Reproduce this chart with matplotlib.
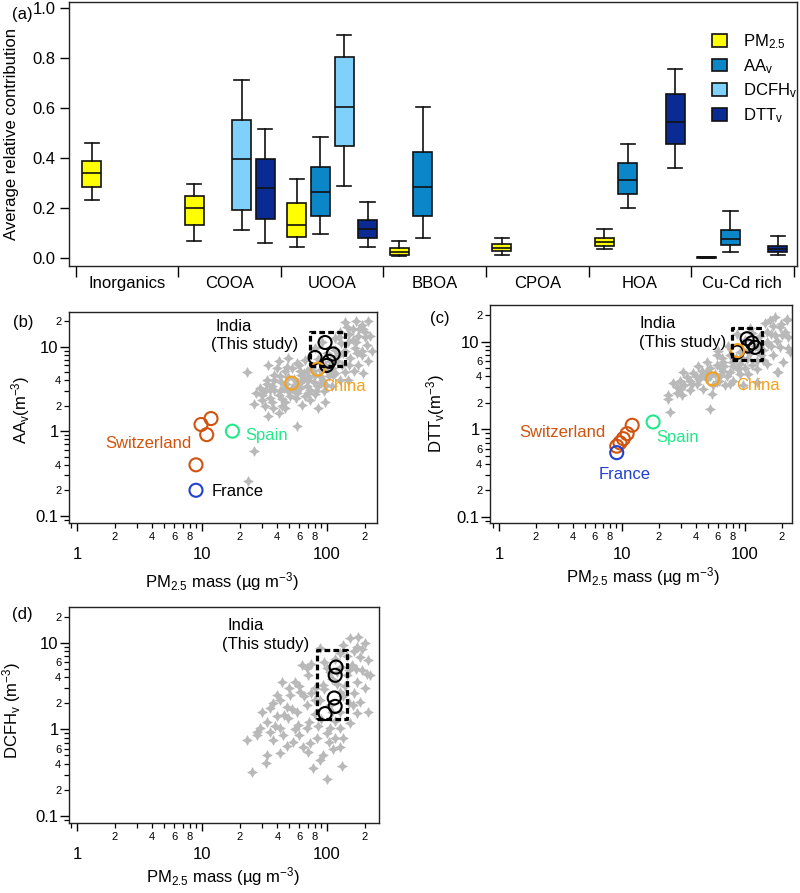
import numpy as np
import matplotlib
matplotlib.use("Agg")
import matplotlib.pyplot as plt
from matplotlib.ticker import FixedLocator, FuncFormatter, LogLocator
from matplotlib.patches import Patch

plt.rcParams['font.family'] = ['Liberation Sans', 'DejaVu Sans']
plt.rcParams['mathtext.fontset'] = 'custom'
plt.rcParams['mathtext.rm'] = 'Liberation Sans'
plt.rcParams['mathtext.it'] = 'Liberation Sans:italic'
plt.rcParams['font.size'] = 12

# ---- panel (a): box summaries (whislo, q1, med, q3, whishi) ----
categories = ["Inorganics", "COOA", "UOOA", "BBOA", "CPOA", "HOA", "Cu-Cd rich"]
pm25_box = [(0.231, 0.284, 0.340, 0.387, 0.460), (0.069, 0.133, 0.200, 0.247, 0.296),
            (0.044, 0.085, 0.133, 0.220, 0.317), (0.007, 0.013, 0.024, 0.039, 0.068),
            (0.011, 0.027, 0.041, 0.056, 0.081), (0.036, 0.047, 0.063, 0.081, 0.117),
            (0.001, 0.002, 0.003, 0.004, 0.004)]
aa_box = [None, None, (0.095, 0.169, 0.263, 0.364, 0.484), (0.079, 0.168, 0.283, 0.423, 0.605),
          None, (0.200, 0.256, 0.313, 0.379, 0.456), (0.024, 0.052, 0.077, 0.112, 0.189)]
dcfh_box = [None, (0.111, 0.193, 0.396, 0.551, 0.711), (0.289, 0.449, 0.603, 0.804, 0.892),
            None, None, None, None]
dtt_box = [None, (0.060, 0.156, 0.280, 0.395, 0.516), (0.044, 0.079, 0.115, 0.151, 0.223),
           None, None, (0.359, 0.455, 0.545, 0.657, 0.756), (0.011, 0.025, 0.036, 0.048, 0.088)]
series_names = [r"PM$_{2.5}$", r"AA$_\mathrm{v}$", r"DCFH$_\mathrm{v}$", r"DTT$_\mathrm{v}$"]
series_colors = ["#FFFF00", "#0B87C9", "#7FD1FB", "#0A2A94"]

# ---- panel (b): AAv vs PM2.5 ----
b_gray_x = [139, 169, 211, 195, 160, 127, 221, 178, 148, 207, 167, 228, 189, 153, 214, 178, 195, 163,
            116, 80, 123, 91, 116, 127, 103, 148, 109, 34, 41, 49, 57, 67, 75, 61, 46, 38, 33, 29,
            36, 43, 54, 65, 78, 92, 73, 61, 49, 41, 35, 30, 46, 56, 67, 80, 94, 37, 46, 85, 32, 63,
            22.7, 26.2, 57, 23.5, 27, 40, 52, 69, 88, 99, 38, 56, 45, 32, 73, 96, 41, 34,
            49, 59, 69, 85, 42, 35, 51, 80, 96, 106, 131, 116, 62, 55, 44, 70, 88, 100, 110, 120,
            140, 130, 150, 180, 200, 170, 190, 150, 140, 85, 60, 100,
            30, 33, 38, 42, 47, 52, 57, 62, 66, 72, 77, 82, 90, 105, 112, 118, 135, 160, 175, 200,
            145, 190, 125, 48, 36, 44, 70, 26]
b_gray_y = [19.5, 20.2, 19.9, 16.3, 16.3, 15.1, 13.2, 13.2, 11.5, 10.5, 9.6, 8.8, 8.0, 7.3, 6.7, 6.1, 4.9, 5.1,
            12.6, 9.6, 8.0, 11.5, 4.9, 4.06, 4.44, 4.06, 3.38, 6.1, 6.7, 7.3, 6.4, 7.0, 5.6, 5.1, 5.1, 4.6, 4.06, 3.23,
            3.38, 3.8, 4.17, 4.25, 3.8, 4.06, 3.09, 3.23, 2.95, 2.65, 2.5, 2.35, 2.24, 2.46, 2.58, 2.74, 2.95, 1.87, 1.89, 1.87, 2.0, 2.05,
            4.95, 0.575, 1.16, 0.256, 2.82, 5.6, 5.6, 5.1, 5.3, 3.54, 3.09, 3.54, 3.23, 2.95, 2.35, 2.24, 1.64, 1.53,
            4.4, 3.7, 3.38, 3.38, 4.44, 3.09, 2.58, 4.64, 6.1, 6.7, 6.1, 9.2, 4.6, 3.0, 2.4, 4.0, 4.5, 5.2, 5.6, 6.8,
            9.0, 11.0, 14.0, 16.0, 13.0, 11.5, 9.0, 6.0, 5.0, 7.2, 6.0, 8.5,
            2.7, 3.6, 4.0, 3.0, 3.6, 3.2, 2.8, 3.8, 4.9, 4.4, 5.2, 3.0, 3.7, 5.0, 4.6, 7.5, 8.5, 12.0, 8.5, 15.0,
            17.0, 18.0, 13.0, 5.8, 2.2, 2.0, 2.8, 2.1]
b_india_x = [96.4, 80.2, 112, 104, 99.4]
b_india_y = [11.2, 7.45, 8.2, 6.7, 6.0]
b_china_x = [52.1, 84.2]
b_china_y = [3.7, 5.42]
b_swiss_x = [9.82, 11.8, 10.9, 8.95]
b_swiss_y = [1.2, 1.41, 0.91, 0.40]
b_spain_x = [17.5]
b_spain_y = [1.0]
b_france_x = [8.95]
b_france_y = [0.20]
b_box_x = [73, 139]
b_box_y = [5.85, 14.9]

# ---- panel (c): DTTv vs PM2.5 ----
c_gray_x = [175, 218, 145, 192, 164, 225, 150, 192, 232, 170, 136, 150, 187, 124, 106, 91, 75.5, 66.7,
            58.7, 51.9, 44.4, 38, 33.5, 29.6, 26.1, 31.5, 48.8, 62.6, 75.5, 68.7, 58.7, 40.5, 35.7, 27.8,
            23.8, 24.5, 51.9, 30.6, 23.5, 181, 224, 218, 85.5, 110, 120, 73.1, 91, 58.7, 48.8, 41.7,
            80.4, 96.8, 124, 45.8, 53.5, 103, 66.7, 35.7, 48.8, 29.6, 164, 205, 132, 181, 62.6, 80.4,
            91, 43, 57, 75.5, 110, 130, 100, 150, 200, 170, 60, 85, 115, 140,
            28, 32, 37, 42, 47, 52, 55, 62, 68, 72, 78, 88, 95, 100, 105, 125, 140, 155, 175, 195,
            160, 210, 115, 40, 65]
c_gray_y = [19.0, 18.2, 16.4, 14.6, 12.3, 11.2, 10.0, 8.65, 7.58, 6.95, 6.95, 5.57, 4.48, 4.89, 4.29, 5.57, 6.95, 5.93,
            5.43, 4.98, 4.68, 4.4, 3.93, 3.6, 3.38, 4.48, 3.76, 4.1, 4.48, 3.16, 3.44, 3.3, 2.84, 2.6,
            2.22, 1.56, 1.71, 2.45, 2.45, 4.52, 8.4, 17.6, 12.3, 14.3, 9.0, 9.0, 7.58, 6.95, 5.83, 5.33,
            3.6, 3.16, 3.44, 2.89, 2.53, 6.35, 4.68, 3.6, 4.68, 2.89, 9.0, 5.83, 11.7, 10.3, 5.1, 5.33,
            4.29, 3.93, 4.29, 3.3, 7.5, 8.2, 10.5, 13.0, 12.0, 15.0, 7.8, 6.5, 5.4, 6.2,
            3.0, 3.2, 3.3, 3.7, 4.2, 4.0, 3.2, 3.6, 5.3, 4.0, 5.9, 4.9, 6.5, 5.0, 8.0, 6.0, 8.0, 9.5, 12.0, 16.0,
            17.5, 13.0, 12.5, 4.0, 6.5]
c_india_x = [104, 114, 121, 106, 86.5]
c_india_y = [10.8, 9.7, 8.6, 8.9, 7.6]
c_china_x = [54.4, 87]
c_china_y = [3.75, 7.9]
c_swiss_x = [12.1, 11.0, 10.25, 9.63, 9.06]
c_swiss_y = [1.11, 0.89, 0.78, 0.70, 0.64]
c_spain_x = [17.9]
c_spain_y = [1.21]
c_france_x = [9.06]
c_france_y = [0.54]
c_box_x = [79, 137]
c_box_y = [6.25, 14.2]

# ---- panel (d): DCFHv vs PM2.5 ----
d_gray_x = [153, 201, 173, 127, 184, 214, 157, 189, 221, 144, 173, 201, 163, 184, 214, 173, 153, 127,
            106, 135, 112, 93.5, 127, 103, 68.7, 62.7, 55.5, 43.4, 60.8, 50.6, 42.1, 37.2, 35, 47.5,
            57.2, 68.7, 80.2, 39.5, 49.1, 32.9, 29.1, 27.4, 35, 42.1, 59, 44.8, 37.2, 53.8, 64.7, 73.1,
            82.6, 32.9, 42.1, 24.9, 77.8, 99.3, 87.9, 23, 131, 208, 178, 100, 93.5, 127, 106, 127,
            87.9, 119, 71, 68.7, 30, 32.3, 27.4, 95, 110, 140, 150, 90, 115, 55, 45, 75, 85, 60,
            100, 160, 130, 145,
            40, 50, 60, 70, 75, 80, 88, 95, 105, 115, 135, 165, 190, 170, 150, 120, 135, 110, 65, 52,
            38, 48, 70, 115, 80]
d_gray_y = [11.2, 9.8, 9.0, 7.5, 6.9, 6.3, 5.5, 4.8, 4.24, 4.24, 3.55, 2.97, 2.6, 2.08, 1.6, 1.53, 1.17, 1.03,
            1.03, 0.79, 0.60, 0.50, 0.63, 0.72, 5.06, 5.5, 3.55, 3.55, 2.72, 2.49, 2.18, 2.0, 1.75, 1.83,
            1.6, 1.91, 2.18, 1.44, 1.34, 1.22, 1.03, 0.86, 0.94, 1.03, 1.12, 0.86, 0.75, 0.72, 0.63, 0.69,
            0.79, 0.50, 0.53, 0.32, 0.355, 0.27, 0.44, 0.76, 0.377, 4.39, 11.6, 5.06, 3.24, 2.72, 1.91, 1.6,
            8.6, 4.62, 1.22, 1.03, 1.6, 0.41, 0.93, 6.0, 3.8, 3.2, 2.0, 1.3, 1.25, 1.0, 1.45, 2.6, 1.1, 0.85,
            0.9, 1.9, 5.2, 7.0,
            2.5, 3.0, 3.2, 4.2, 5.6, 3.0, 2.2, 2.9, 4.6, 6.5, 9.5, 8.0, 8.5, 5.0, 4.8, 3.3, 2.4, 1.6, 2.4, 1.7,
            1.1, 0.65, 0.55, 0.8, 1.5]
d_india_x = [118, 116, 114, 116, 96.4]
d_india_y = [5.23, 4.2, 2.3, 1.84, 1.52]
d_box_x = [83.6, 144]
d_box_y = [1.33, 8.15]

COL_SWISS = "#D0540F"
COL_CHINA = "#F4A21C"
COL_SPAIN = "#22E88A"
COL_FRANCE = "#2140CF"
COL_GRAY = "#B9B9B9"

W, H = 800, 893
fig = plt.figure(figsize=(W / 100, H / 100), dpi=100)


def px_axes(l, t, r, b):
    return fig.add_axes([l / W, 1 - b / H, (r - l) / W, (b - t) / H])


def style_spines(ax):
    for s in ax.spines.values():
        s.set_linewidth(1.0)
        s.set_color("#222222")


# ================= panel (a) =================
ax = px_axes(69, 2, 797, 266)
style_spines(ax)
offsets = [-0.345, -0.115, 0.115, 0.345]
width = 0.185
for j, data in enumerate([pm25_box, aa_box, dcfh_box, dtt_box]):
    stats, pos = [], []
    for i, v in enumerate(data):
        if v is None:
            continue
        stats.append(dict(whislo=v[0], q1=v[1], med=v[2], q3=v[3], whishi=v[4], fliers=[]))
        pos.append(i + offsets[j])
    ax.bxp(stats, positions=pos, widths=width, capwidths=width * 0.75, patch_artist=True,
           showfliers=False, manage_ticks=False,
           boxprops=dict(facecolor=series_colors[j], edgecolor="#111111", linewidth=1.2),
           medianprops=dict(color="#111111", linewidth=1.2),
           whiskerprops=dict(color="#111111", linewidth=1.2),
           capprops=dict(color="#111111", linewidth=1.2))
ax.set_xlim(-0.568, 6.534)
ax.set_ylim(-0.032, 1.024)
ax.set_xticks([i - 0.5 for i in range(8)])
ax.set_xticklabels([])
ax.set_xticks(range(7), minor=True)
ax.set_xticklabels(categories, minor=True)
ax.tick_params(axis="x", which="major", direction="out", length=8, width=1)
ax.tick_params(axis="x", which="minor", length=0, pad=7, labelsize=12)
ax.set_yticks([0.0, 0.2, 0.4, 0.6, 0.8, 1.0])
ax.yaxis.set_major_formatter(FuncFormatter(lambda v, p: f"{v:.1f}"))
ax.tick_params(axis="y", direction="out", length=6.5, width=1, pad=3, labelsize=12)
ax.set_ylabel("Average relative contribution", fontsize=12)
ax.yaxis.set_label_coords(-0.069, 0.5)
handles = [Patch(facecolor=c, edgecolor="#111111", linewidth=1.2) for c in series_colors]
ax.legend(handles, series_names, loc="upper left", bbox_to_anchor=(0.883, 0.885),
          frameon=False, borderpad=0, borderaxespad=0, handlelength=0.9, handleheight=0.8,
          handletextpad=0.95, labelspacing=0.35, fontsize=12)
fig.text(12 / W, 1 - 14 / H, "(a)", fontsize=12, ha="left", va="center")


# ================= log panels =================
def minor_formatter(marks):
    def fmt(v, p):
        for m in marks:
            if abs(v - m) / m < 1e-6:
                return str(int(round(m / 10 ** np.floor(np.log10(m) + 1e-9))))
        return ""
    return FuncFormatter(fmt)


def setup_log(ax, xlim, ylim, y_marks):
    style_spines(ax)
    ax.set_xscale("log")
    ax.set_yscale("log")
    ax.set_xlim(xlim)
    ax.set_ylim(ylim)
    ax.xaxis.set_major_locator(FixedLocator([1, 10, 100]))
    ax.yaxis.set_major_locator(FixedLocator([0.1, 1, 10]))
    ax.xaxis.set_minor_locator(LogLocator(base=10, subs=np.arange(2, 10), numticks=30))
    ax.yaxis.set_minor_locator(LogLocator(base=10, subs=np.arange(2, 10), numticks=30))
    ax.xaxis.set_major_formatter(FuncFormatter(lambda v, p: f"{v:g}"))
    ax.yaxis.set_major_formatter(FuncFormatter(lambda v, p: f"{v:g}"))
    ax.xaxis.set_minor_formatter(minor_formatter([2, 4, 6, 8, 20, 40, 60, 80, 200]))
    ax.yaxis.set_minor_formatter(minor_formatter(y_marks))
    ax.tick_params(axis="x", which="major", direction="out", length=6, width=1, pad=11, labelsize=12)
    ax.tick_params(axis="x", which="minor", direction="out", length=3.5, width=0.9, pad=3, labelsize=8)
    ax.tick_params(axis="y", which="major", direction="out", length=6.5, width=1, pad=1, labelsize=12)
    ax.tick_params(axis="y", which="minor", direction="out", length=3.5, width=0.9, pad=2, labelsize=8)
    ax.set_xlabel(r"PM$_{2.5}$ mass (µg m$^{-3}$)", fontsize=12)


def draw_box(ax, bx, by):
    ax.plot([bx[0], bx[1], bx[1], bx[0], bx[0]], [by[0], by[0], by[1], by[1], by[0]],
            color="k", lw=2.3, ls=(0, (1.8, 1.0)), zorder=5)


def circles(ax, x, y, color):
    ax.scatter(x, y, s=88, facecolors="none", edgecolors=color, linewidths=1.5, zorder=4)


star = (4, 1, 0)
star_size = 62

# ---- (b)
ax = px_axes(69, 312, 377, 523)
setup_log(ax, (0.863, 251), (0.082, 25.7), [0.2, 0.4, 2, 4, 20])
ax.scatter(b_gray_x, b_gray_y, marker=star, s=star_size, c=COL_GRAY, linewidths=0, zorder=2)
draw_box(ax, b_box_x, b_box_y)
circles(ax, b_india_x, b_india_y, "k")
circles(ax, b_china_x, b_china_y, COL_CHINA)
circles(ax, b_swiss_x, b_swiss_y, COL_SWISS)
circles(ax, b_spain_x, b_spain_y, COL_SPAIN)
circles(ax, b_france_x, b_france_y, COL_FRANCE)
ax.text(12.9, 17.1, "India", ha="left", va="center")
ax.text(11.9, 10.6, "(This study)", ha="left", va="center")
ax.text(90.7, 3.34, "China", color=COL_CHINA, ha="left", va="center")
ax.text(22.1, 0.897, "Spain", color=COL_SPAIN, ha="left", va="center")
ax.text(8.17, 0.715, "Switzerland", color=COL_SWISS, ha="right", va="center")
ax.text(11.9, 0.195, "France", color="k", ha="left", va="center")
ax.set_ylabel(r"AA$_\mathrm{v}$(m$^{-3}$)", fontsize=12)
ax.yaxis.set_label_coords(-0.12, 0.535)
ax.xaxis.set_label_coords(0.497, -0.223)
fig.text(23 / W, 1 - 323 / H, "(b)", fontsize=12, ha="center", va="center")

# ---- (c)
ax = px_axes(490, 305, 792, 523)
setup_log(ax, (0.845, 241), (0.085, 26.2), [0.2, 0.4, 0.6, 2, 4, 6, 20])
ax.scatter(c_gray_x, c_gray_y, marker=star, s=star_size, c=COL_GRAY, linewidths=0, zorder=2)
draw_box(ax, c_box_x, c_box_y)
circles(ax, c_india_x, c_india_y, "k")
circles(ax, c_china_x, c_china_y, COL_CHINA)
circles(ax, c_swiss_x, c_swiss_y, COL_SWISS)
circles(ax, c_spain_x, c_spain_y, COL_SPAIN)
circles(ax, c_france_x, c_france_y, COL_FRANCE)
ax.text(14.0, 16.1, "India", ha="left", va="center")
ax.text(13.7, 9.69, "(This study)", ha="left", va="center")
ax.text(84, 3.12, "China", color=COL_CHINA, ha="left", va="center")
ax.text(19.1, 0.80, "Spain", color=COL_SPAIN, ha="left", va="center")
ax.text(7.37, 0.917, "Switzerland", color=COL_SWISS, ha="right", va="center")
ax.text(6.42, 0.303, "France", color=COL_FRANCE, ha="left", va="center")
ax.set_ylabel(r"DTT$_\mathrm{v}$(m$^{-3}$)", fontsize=12)
ax.yaxis.set_label_coords(-0.142, 0.5)
ax.xaxis.set_label_coords(0.505, -0.193)
fig.text(440 / W, 1 - 318 / H, "(c)", fontsize=12, ha="center", va="center")

# ---- (d)
ax = px_axes(69, 607, 379, 823)
setup_log(ax, (0.863, 260), (0.083, 25.8), [0.2, 0.4, 0.6, 2, 4, 6, 20])
ax.scatter(d_gray_x, d_gray_y, marker=star, s=star_size, c=COL_GRAY, linewidths=0, zorder=2)
draw_box(ax, d_box_x, d_box_y)
circles(ax, d_india_x, d_india_y, "k")
ax.text(16.1, 15.8, "India", ha="left", va="center")
ax.text(14.5, 9.48, "(This study)", ha="left", va="center")
ax.set_ylabel(r"DCFH$_\mathrm{v}$ (m$^{-3}$)", fontsize=12)
ax.yaxis.set_label_coords(-0.148, 0.52)
ax.xaxis.set_label_coords(0.497, -0.194)
fig.text(22 / W, 1 - 615 / H, "(d)", fontsize=12, ha="center", va="center")

fig.savefig("out.png", dpi=100)
